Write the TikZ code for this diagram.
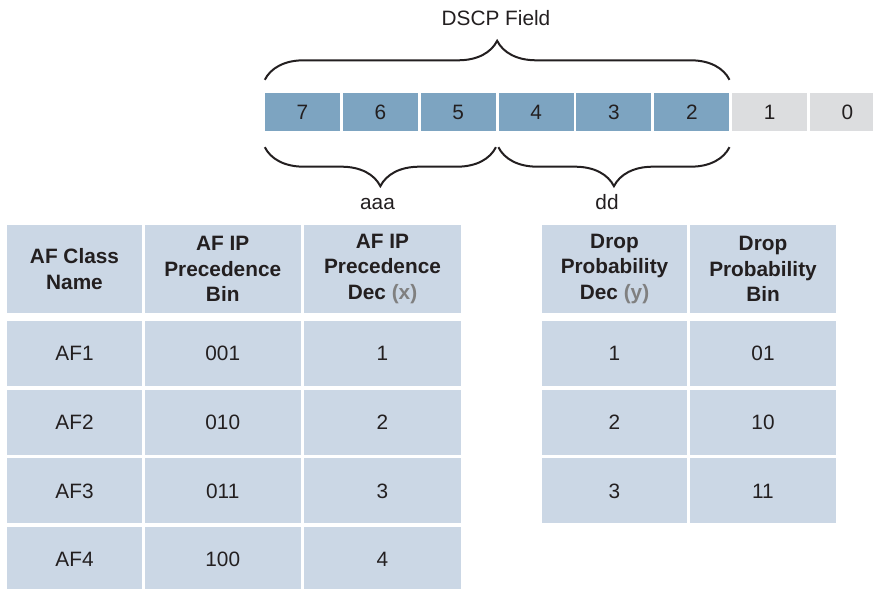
\documentclass[tikz,border=0pt]{standalone}
\usepackage{fontspec}
\setmainfont{Liberation Sans}
\usetikzlibrary{positioning,decorations.pathreplacing}
\definecolor{dscpInk}{HTML}{231F20}
\definecolor{dscpBlue}{HTML}{7DA4C1}
\definecolor{dscpGray}{HTML}{DCDDDF}
\definecolor{afCell}{HTML}{CBD7E5}
\definecolor{afNote}{HTML}{808080}
\tikzset{
  every picture/.style={font=\fontsize{20.8}{25.5}\selectfont, text=dscpInk},
  dscp bit/.style={fill=dscpBlue, minimum width=75pt, minimum height=38pt,
    inner sep=0pt},
  dscp free/.style={dscp bit, fill=dscpGray},
  dscp brace/.style={draw=dscpInk, line width=2pt, decorate,
    decoration={brace, amplitude=39pt}},
  af cell/.style={fill=afCell, minimum height=65pt, inner sep=0pt, align=center},
  af head/.style={af cell, minimum height=88pt,
    font=\fontsize{20.8}{25.5}\selectfont\bfseries}
}
\begin{document}
\begin{tikzpicture}[x=1pt,y=1pt]
  \useasboundingbox (0,0) rectangle (873,589);
  % DSCP bits
  \foreach \b [count=\k from 0] in {7,6,5,4,3,2}
    \node[dscp bit] (bit\b) at ({302.5+77.86*\k},477) {\b};
  \foreach \b [count=\k from 6] in {1,0}
    \node[dscp free] (bit\b) at ({302.5+77.86*\k},477) {\b};
  \draw[dscp brace] ([yshift=13pt]bit7.north west) -- ([yshift=13pt]bit2.north east);
  \draw[dscp brace, decoration={mirror}] ([yshift=-16pt]bit7.south west) -- ([yshift=-16pt]bit5.south east);
  \draw[dscp brace, decoration={mirror}] ([yshift=-16pt]bit4.south west) -- ([yshift=-16pt]bit2.south east);
  \node[anchor=base] (field) at (496,563) {DSCP Field};
  \node[anchor=base] (aaa) at (377.5,379) {aaa};
  \node[anchor=base] (dd) at (607,379) {dd};
  % AF class table
  \node[af head, minimum width=135pt] (hcls) at (74.5,320) {AF Class\\Name};
  \node[af head, minimum width=156.5pt] (hbin) at (222.75,320) {AF IP\\Precedence\\Bin};
  \node[af head, minimum width=157pt] (hdec) at (382.5,320) {AF IP\\Precedence\\Dec {\color{afNote}(x)}};
  \foreach \cls/\bin [count=\r] in {AF1/001,AF2/010,AF3/011,AF4/100} {
    \node[af cell, minimum width=135pt] (cls\r) at (74.5,{304.2-68.7*\r}) {\cls};
    \node[af cell, minimum width=156.5pt] (bin\r) at (222.75,{304.2-68.7*\r}) {\bin};
    \node[af cell, minimum width=157pt] (dec\r) at (382.5,{304.2-68.7*\r}) {\r};
  }
  % drop probability table
  \node[af head, minimum width=145pt] (hdrop) at (614.5,320) {Drop\\Probability\\Dec {\color{afNote}(y)}};
  \node[af head, minimum width=146pt] (hdbin) at (763,320) {Drop\\Probability\\Bin};
  \foreach \bin [count=\r] in {01,10,11} {
    \node[af cell, minimum width=145pt] (drop\r) at (614.5,{304.2-68.7*\r}) {\r};
    \node[af cell, minimum width=146pt] (dbin\r) at (763,{304.2-68.7*\r}) {\bin};
  }
\end{tikzpicture}
\end{document}
